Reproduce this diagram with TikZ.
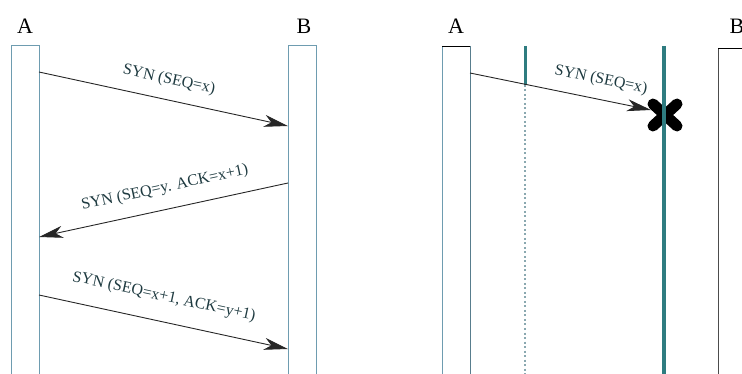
\documentclass[tikz,border=0pt]{standalone}
\usepackage{fontspec}
\setmainfont{Liberation Serif}
\usetikzlibrary{arrows.meta}
\definecolor{barc}{HTML}{6E9CB0}
\definecolor{tealc}{HTML}{2E7C80}
\definecolor{txtc}{HTML}{1E3A40}
\definecolor{dotc}{HTML}{8AA8B0}
\begin{document}
\begin{tikzpicture}[x=1pt,y=-1pt,
  bar/.style={draw=barc,line width=0.9pt,rectangle,inner sep=0pt,minimum width=28pt,minimum height=340pt,anchor=north west},
  plainbar/.style={rectangle,inner sep=0pt,minimum width=28pt,minimum height=340pt,anchor=north west},
  hdr/.style={font=\fontsize{22}{24}\selectfont,text=black,inner sep=0pt},
  lbl/.style={font=\fontsize{16}{18}\selectfont,text=txtc,inner sep=0pt},
  msg/.style={draw=black!85,line width=0.9pt,-{Stealth[length=24pt,width=12pt,inset=7pt]}},
  tline/.style={draw=tealc,line width=3pt}]
\useasboundingbox (0,0) rectangle (742,374);
\clip (0,0) rectangle (742,374);
% ---------- left panel ----------
\node[hdr] (hA) at (25,26) {A};
\node[hdr] (hB) at (304,26) {B};
\node[bar] (barA) at (11,45) {};
\node[bar] (barB) at (288,45) {};
\coordinate (m1s) at (39,72);
\coordinate (m1e) at (288,126);
\coordinate (m2s) at (288,183);
\coordinate (m2e) at (39,237);
\coordinate (m3s) at (39,295);
\coordinate (m3e) at (288,349);
\draw[msg] (m1s) -- (m1e);
\draw[msg] (m2s) -- (m2e);
\draw[msg] (m3s) -- (m3e);
\node[lbl,rotate=-12.2] (l1) at (169,80) {SYN (SEQ=x)};
\node[lbl,rotate=12.2] (l2) at (165,188) {SYN (SEQ=y. ACK=x+1)};
\node[lbl,rotate=-12.2] (l3) at (164,297) {SYN (SEQ=x+1, ACK=y+1)};
% ---------- right panel ----------
\node[hdr] (rA) at (456,26) {A};
\node[hdr] (rB) at (737,26) {B};
\node[plainbar] (rbarA) at (442,46) {};
\draw[barc,line width=0.9pt] (rbarA.north west) -- (rbarA.south west);
\draw[barc!80!black,line width=0.9pt] (rbarA.north east) -- (rbarA.south east);
\draw[black,line width=0.9pt] (rbarA.north west) -- (rbarA.north east);
\node[plainbar] (rbarB) at (718,48) {};
\draw[black!70,line width=0.9pt] (rbarB.north west) -- (rbarB.south west);
\draw[black,line width=0.9pt] (rbarB.north west) -- (rbarB.north east);
\coordinate (t1top) at (525,46);
\coordinate (t1mid) at (525,85);
\coordinate (t1bot) at (525,380);
\draw[tline] (t1top) -- (t1mid);
\draw[dotc,line width=1.8pt,dash pattern=on 2pt off 2.5pt] (t1mid) -- (t1bot);
\coordinate (m4s) at (470,73);
\coordinate (m4e) at (651,110);
\draw[msg] (m4s) -- (m4e);
\node[lbl,rotate=-11.5] (l4) at (601,80) {SYN (SEQ=x)};
\coordinate (xc) at (665,115);
\draw[black,line width=11pt,line cap=round] ([shift={(-12,-11)}]xc) -- ([shift={(12,11)}]xc);
\draw[black,line width=11pt,line cap=round] ([shift={(-12,11)}]xc) -- ([shift={(12,-11)}]xc);
\coordinate (t2top) at (664,46);
\coordinate (t2bot) at (664,380);
\draw[tealc,line width=3.5pt] (t2top) -- (t2bot);
\end{tikzpicture}
\end{document}
